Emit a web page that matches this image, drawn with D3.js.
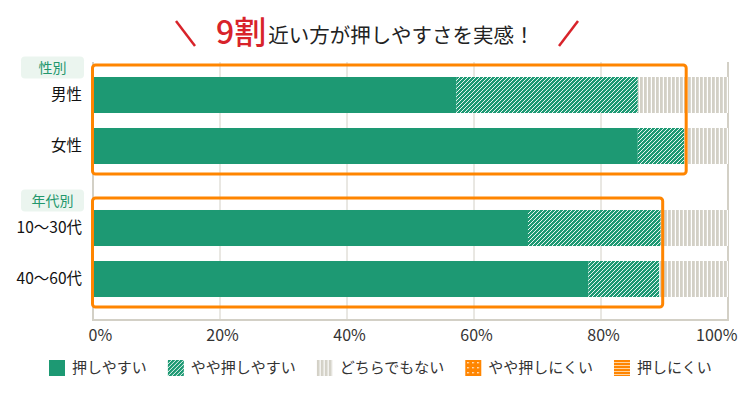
<!DOCTYPE html>
<html>
<head>
<meta charset="utf-8">
<script src="https://cdn.jsdelivr.net/npm/d3@7"></script>
<style>
  body { margin: 0; background: #fff; }
  svg { display: block; font-family: "Noto Sans CJK JP", "Noto Sans", sans-serif; }
</style>
</head>
<body>
<div id="chart"></div>
<script>
// データ
const groups = ["性別", "年代別"];
const categories = [["男性", "女性"], ["10～30代", "40～60代"]];
const seriesNames = ["押しやすい", "やや押しやすい", "どちらでもない", "やや押しにくい", "押しにくい"];
const easy       = [57.2, 85.8, 68.5, 78.0];
const fairlyEasy = [28.6, 7.3, 20.9, 11.2];
const neutral    = [14.2, 6.9, 10.6, 10.8];
const fairlyHard = [0, 0, 0, 0];
const hard       = [0, 0, 0, 0];
const tickValues = [0, 20, 40, 60, 80, 100];

const width = 750, height = 395;
const GREEN = "#1d9973", GREY = "#d3d0c6", ORANGE = "#ff8500", RED = "#d8232a";

const svg = d3.select("#chart").append("svg")
    .attr("width", width).attr("height", height);

// パターン
const defs = svg.append("defs");
const hatch = defs.append("pattern").attr("id", "hatch")
    .attr("patternUnits", "userSpaceOnUse").attr("width", 4).attr("height", 4);
hatch.append("rect").attr("width", 4).attr("height", 4).attr("fill", GREEN);
hatch.append("path").attr("d", "M-1,1 l2,-2 M0,4 l4,-4 M3,5 l2,-2")
    .attr("stroke", "#fff").attr("stroke-width", 0.9);

const stripes = defs.append("pattern").attr("id", "stripes")
    .attr("patternUnits", "userSpaceOnUse").attr("width", 4).attr("height", 4);
stripes.append("rect").attr("width", 4).attr("height", 4).attr("fill", "#fff");
stripes.append("rect").attr("width", 2.8).attr("height", 4).attr("fill", GREY);

const dots = defs.append("pattern").attr("id", "dots")
    .attr("patternUnits", "userSpaceOnUse").attr("width", 5).attr("height", 5);
dots.append("rect").attr("width", 5).attr("height", 5).attr("fill", ORANGE);
dots.append("rect").attr("x", 2).attr("y", 2).attr("width", 1.4).attr("height", 1.4).attr("fill", "#fff");

const hlines = defs.append("pattern").attr("id", "hlines")
    .attr("patternUnits", "userSpaceOnUse").attr("width", 3).attr("height", 3);
hlines.append("rect").attr("width", 3).attr("height", 3).attr("fill", ORANGE);
hlines.append("rect").attr("y", 2).attr("width", 3).attr("height", 1).attr("fill", "#ffd3a0");

const fills = [GREEN, "url(#hatch)", "url(#stripes)", "url(#dots)", "url(#hlines)"];

// スケール
const x = d3.scaleLinear().domain([0, 100]).range([93, 728]);
const plotTop = 62, plotBottom = 320;
const groupTop = [69.5, 202.5];
const yScales = categories.map((cats, gi) => d3.scaleBand()
    .domain(cats).range([groupTop[gi], groupTop[gi] + 102])
    .paddingInner(0.294).paddingOuter(0.147));

// 行データ
const rows = [];
categories.forEach((cats, gi) => cats.forEach(c => {
    const i = rows.length;
    rows.push({ group: gi, name: c, values: [easy[i], fairlyEasy[i], neutral[i], fairlyHard[i], hard[i]] });
}));

// グリッド
svg.append("g").selectAll("line").data(tickValues.slice(1))
    .join("line")
    .attr("x1", d => x(d)).attr("x2", d => x(d))
    .attr("y1", plotTop).attr("y2", plotBottom)
    .attr("stroke", GREY).attr("stroke-width", d => d === 100 ? 2 : 1);

// バー
const rowG = svg.append("g").selectAll("g").data(rows).join("g")
    .attr("transform", d => `translate(0,${yScales[d.group](d.name)})`);
rowG.selectAll("rect").data(d => {
    let acc = 0;
    return d.values.map((v, k) => { const s = acc; acc += v; return { s, e: acc, k }; });
}).join("rect")
    .attr("x", d => x(d.s))
    .attr("width", d => Math.max(0, x(d.e) - x(d.s)))
    .attr("height", yScales[0].bandwidth())
    .attr("fill", d => fills[d.k]);

// 軸線
svg.append("line").attr("x1", 93).attr("x2", 93).attr("y1", plotTop).attr("y2", plotBottom + 1)
    .attr("stroke", GREY).attr("stroke-width", 2);
svg.append("line").attr("x1", 92).attr("x2", 729).attr("y1", plotBottom).attr("y2", plotBottom)
    .attr("stroke", GREY).attr("stroke-width", 2);

// X軸ラベル
const xAxis = svg.append("g").attr("transform", `translate(0,${plotBottom})`)
    .call(d3.axisBottom(x).tickValues(tickValues).tickFormat(d => d + "%").tickSize(0).tickPadding(10));
xAxis.select(".domain").remove();
xAxis.selectAll("text")
    .attr("font-family", "\"Noto Sans CJK JP\", sans-serif")
    .attr("font-size", 16).attr("fill", "#333")
    .attr("text-anchor", d => d === 0 ? "start" : d === 100 ? "end" : "middle")
    .attr("dx", d => d === 0 ? -5 : d === 100 ? 9 : 2);

// カテゴリラベル
rowG.append("text")
    .attr("x", 82).attr("y", yScales[0].bandwidth() / 2)
    .attr("dy", "0.35em").attr("text-anchor", "end")
    .attr("font-size", 15.5).attr("fill", "#111")
    .text(d => d.name);

// グループラベル
const gl = svg.append("g").selectAll("g").data(groups).join("g")
    .attr("transform", (d, i) => `translate(21,${groupTop[i] - 13})`);
gl.append("rect").attr("width", 63).attr("height", 22).attr("rx", 4)
    .attr("fill", "#ebf5ef");
gl.append("text").attr("x", 31.5).attr("y", 11).attr("dy", "0.36em")
    .attr("text-anchor", "middle").attr("font-size", 14).attr("fill", "#22976c")
    .text(d => d);

// 強調枠
categories.forEach((cats, gi) => {
    const idx = rows.filter(r => r.group === gi);
    const maxEnd = d3.max(idx, r => r.values[0] + r.values[1]);
    const top = groupTop[gi] - 4.5, bottom = groupTop[gi] + 102 + 2.5;
    svg.append("rect")
        .attr("x", 92.5).attr("y", top)
        .attr("width", x(maxEnd) + 2 - 92.5).attr("height", bottom - top)
        .attr("rx", 3).attr("fill", "none")
        .attr("stroke", ORANGE).attr("stroke-width", 3);
});

// タイトル
const title = svg.append("text")
    .attr("x", 216).attr("y", 44).attr("text-anchor", "start");
title.append("tspan").attr("font-size", 32).attr("font-weight", 500).attr("fill", RED).text("9割");
title.append("tspan").attr("dx", 2).attr("dy", -1).attr("font-size", 20.5).attr("fill", "#222").text("近い方が押しやすさを実感！");
svg.append("line").attr("x1", 176).attr("y1", 21).attr("x2", 195).attr("y2", 46)
    .attr("stroke", RED).attr("stroke-width", 2.5);
svg.append("line").attr("x1", 578).attr("y1", 21).attr("x2", 559).attr("y2", 46)
    .attr("stroke", RED).attr("stroke-width", 2.5);

// 凡例
const legend = svg.append("g").attr("transform", "translate(49,360)");
let lx = 0;
seriesNames.forEach((name, k) => {
    const item = legend.append("g").attr("transform", `translate(${lx},0)`);
    item.append("rect").attr("width", 16).attr("height", 16).attr("fill", fills[k]);
    const t = item.append("text").attr("x", 23).attr("y", 8).attr("dy", "0.36em")
        .attr("font-size", 15).attr("fill", "#333").text(name);
    lx += 23 + t.node().getComputedTextLength() + 21;
});
</script>
</body>
</html>
